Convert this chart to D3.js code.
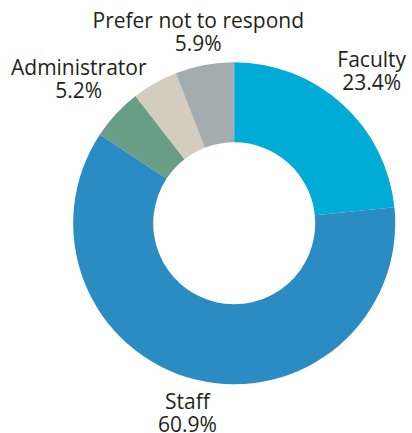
<!DOCTYPE html>
<html>
<head>
<meta charset="utf-8">
<script src="https://cdn.jsdelivr.net/npm/d3@7"></script>
<style>
  html, body { margin: 0; padding: 0; background: #fff; }
  svg { display: block; }
</style>
</head>
<body>
<div id="viz-container"></div>
<script>
// chart data
let categories = ["Faculty", "Staff", "Administrator", "Other", "Prefer not to respond"];
let values = [23.4, 60.9, 5.2, 4.6, 5.9];
let valueLabels = ["23.4%", "60.9%", "5.2%", "", "5.9%"];
let colors = ["#00abd8", "#2b8bc3", "#6a9e84", "#d4cdbf", "#a3acaf"];

// label distance from centre, per slice (layout only)
let labelRadius = [205, 195, 212, 0, 195];

let width = 412;
let height = 433;
let cx = 234.2;
let cy = 223.3;
let outerR = 161;
let innerR = 81;

let rows = categories.map(function(c, i){
  return {name: c, value: values[i], label: valueLabels[i], color: colors[i], lr: labelRadius[i]};
});

let viz = d3.select("#viz-container")
  .append("svg")
    .attr("width", width)
    .attr("height", height)
;

let pie = d3.pie()
  .sort(null)
  .value(function(d){ return d.value; })
;

let arc = d3.arc()
  .innerRadius(innerR)
  .outerRadius(outerR)
;

let chart = viz.append("g")
  .attr("transform", "translate(" + cx + "," + cy + ")")
;

let slices = pie(rows);

chart.selectAll(".slice").data(slices)
  .enter()
  .append("path")
    .attr("class", "slice")
    .attr("d", arc)
    .attr("fill", function(d){ return d.data.color; })
;

function labelPos(d){
  let a = (d.startAngle + d.endAngle) / 2;
  let r = d.data.lr;
  return [Math.sin(a) * r, -Math.cos(a) * r];
}

let labelGroups = chart.selectAll(".label").data(slices.filter(function(d){ return d.data.label != ""; }))
  .enter()
  .append("g")
    .attr("class", "label")
    .attr("transform", function(d){
      let p = labelPos(d);
      return "translate(" + p[0] + "," + p[1] + ")";
    })
;

// name line
labelGroups.append("text")
    .attr("y", -4)
    .attr("text-anchor", "middle")
    .attr("font-family", "'Open Sans', sans-serif")
    .attr("font-size", "21px")
    .attr("fill", "#231f20")
    .text(function(d){ return d.data.name; })
;

// percent line
labelGroups.append("text")
    .attr("y", 19)
    .attr("text-anchor", "middle")
    .attr("font-family", "'Open Sans', sans-serif")
    .attr("font-size", "21px")
    .attr("fill", "#231f20")
    .text(function(d){ return d.data.label; })
;
</script>
</body>
</html>
